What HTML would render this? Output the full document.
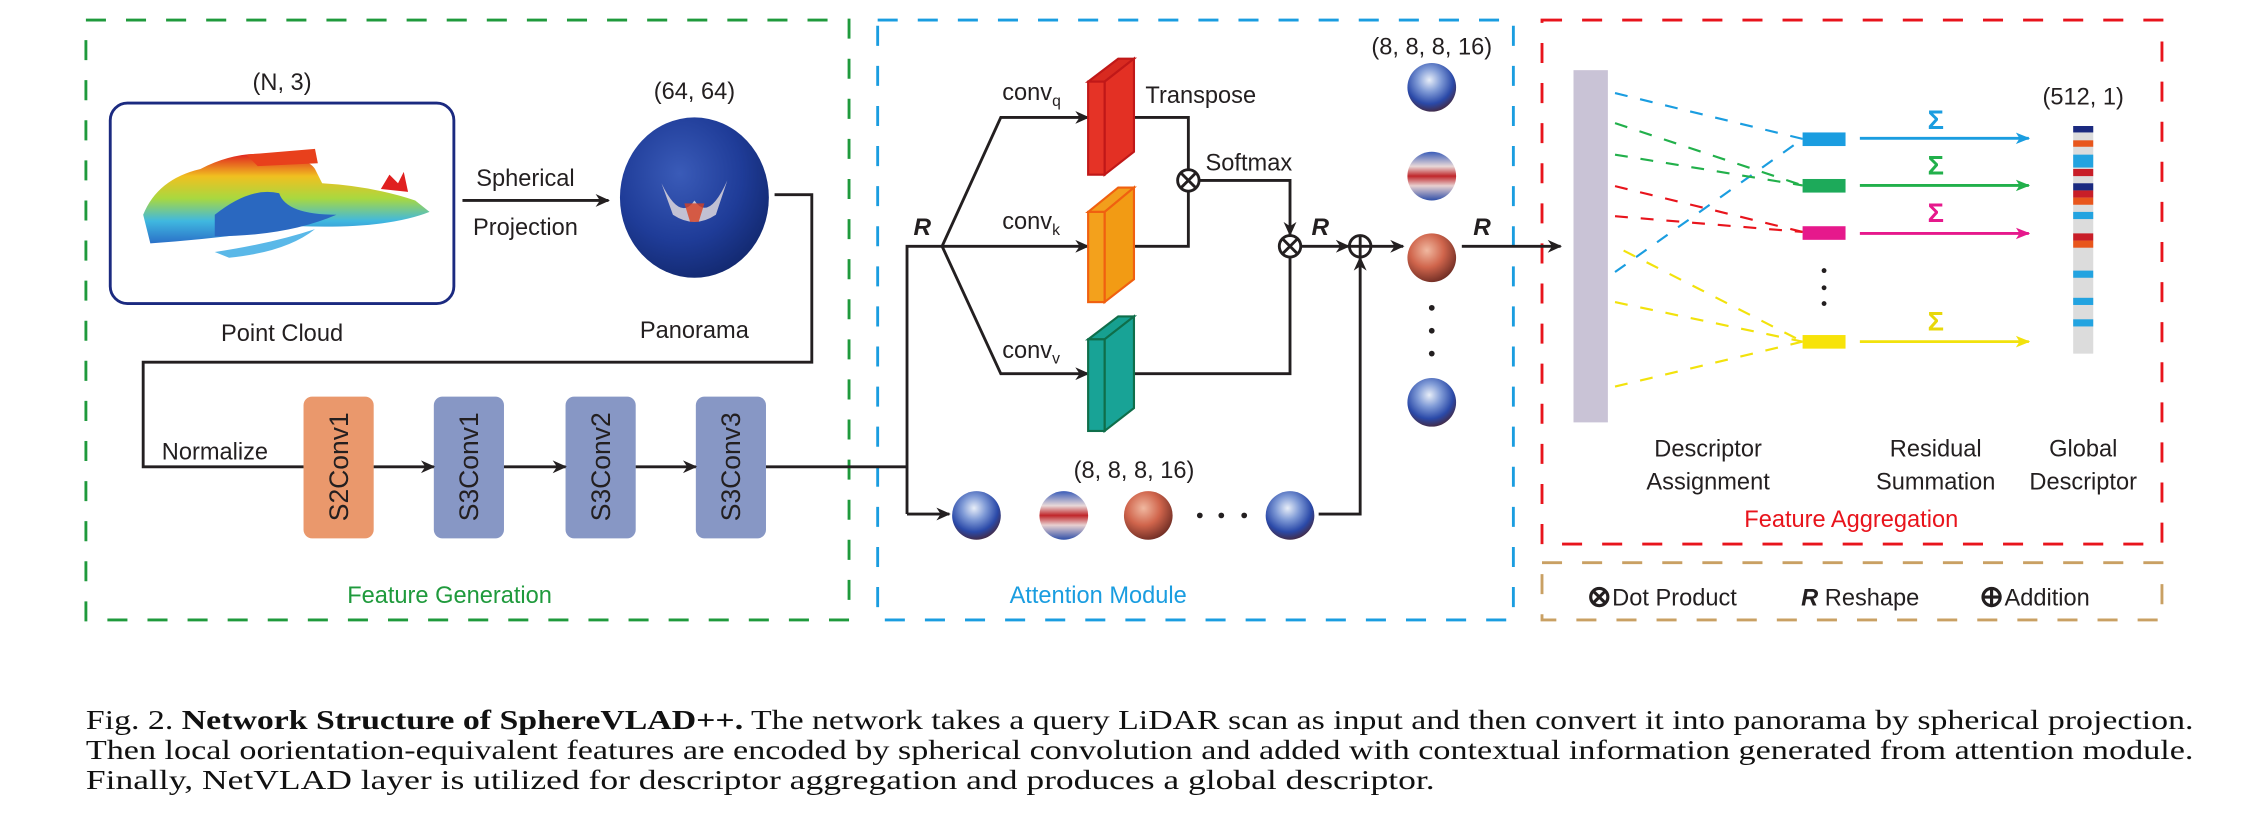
<!DOCTYPE html>
<html><head><meta charset="utf-8"><style>
html,body{margin:0;padding:0;background:#fff;}
svg{display:block;}
text{font-family:"Liberation Sans",Arial,sans-serif;fill:#231f20;}
.cap{font-family:"Liberation Serif","Times New Roman",serif;font-size:19px;fill:#111;}
</style></head><body>
<svg width="2245" height="828" viewBox="0 0 1568 578.3" xmlns="http://www.w3.org/2000/svg">
<defs>
<marker id="ah" markerWidth="10" markerHeight="10" refX="9" refY="5" orient="auto" markerUnits="userSpaceOnUse"><path d="M0,0.5 L10,5 L0,9.5 L3,5 Z" fill="#231f20"/></marker>
<marker id="ab" markerWidth="10" markerHeight="10" refX="9" refY="5" orient="auto" markerUnits="userSpaceOnUse"><path d="M0,1 L10,5 L0,9 L2.5,5 Z" fill="#1a9de0"/></marker>
<marker id="ag" markerWidth="10" markerHeight="10" refX="9" refY="5" orient="auto" markerUnits="userSpaceOnUse"><path d="M0,1 L10,5 L0,9 L2.5,5 Z" fill="#22b04b"/></marker>
<marker id="am" markerWidth="10" markerHeight="10" refX="9" refY="5" orient="auto" markerUnits="userSpaceOnUse"><path d="M0,1 L10,5 L0,9 L2.5,5 Z" fill="#e6198c"/></marker>
<marker id="ay" markerWidth="10" markerHeight="10" refX="9" refY="5" orient="auto" markerUnits="userSpaceOnUse"><path d="M0,1 L10,5 L0,9 L2.5,5 Z" fill="#f2e20c"/></marker>
<radialGradient id="pano" cx="0.4" cy="0.35" r="0.7"><stop offset="0" stop-color="#3a5bb8"/><stop offset="0.6" stop-color="#1f3c98"/><stop offset="1" stop-color="#12286e"/></radialGradient>
<radialGradient id="sr" cx="0.4" cy="0.35" r="0.7"><stop offset="0" stop-color="#f0b8a0"/><stop offset="0.5" stop-color="#d0654c"/><stop offset="1" stop-color="#6a2a22"/></radialGradient>
<radialGradient id="sb" cx="0.45" cy="0.35" r="0.7"><stop offset="0" stop-color="#e8eef8"/><stop offset="0.35" stop-color="#7f9ad6"/><stop offset="0.7" stop-color="#2a49a8"/><stop offset="1" stop-color="#4a2430"/></radialGradient>
<linearGradient id="sm" x1="0" y1="0" x2="0" y2="1"><stop offset="0" stop-color="#3a5cb8"/><stop offset="0.3" stop-color="#e8d8d8"/><stop offset="0.5" stop-color="#c0262a"/><stop offset="0.7" stop-color="#e8d0d0"/><stop offset="1" stop-color="#3050a8"/></linearGradient>
<linearGradient id="pc" x1="0" y1="0" x2="0" y2="1"><stop offset="0" stop-color="#e02020"/><stop offset="0.25" stop-color="#f0c020"/><stop offset="0.5" stop-color="#a8d840"/><stop offset="0.75" stop-color="#40b8e0"/><stop offset="1" stop-color="#2a70c8"/></linearGradient>
</defs>

<g fill="none" stroke-width="2" stroke-dasharray="14,14">
<rect x="60" y="14" width="533" height="419" stroke="#1f9a3c"/>
<rect x="613" y="14" width="444" height="419" stroke="#1a9de0"/>
<rect x="1077" y="14" width="433" height="366" stroke="#e8141c"/>
<rect x="1077" y="393" width="433" height="40" stroke="#c9a063"/>
</g>
<text x="314" y="421" font-size="16.5" text-anchor="middle" style="fill:#1f9a3c">Feature Generation</text>
<text x="767" y="421" font-size="16.5" text-anchor="middle" style="fill:#1a9de0">Attention Module</text>
<text x="1293" y="368" font-size="16.5" text-anchor="middle" style="fill:#e8141c">Feature Aggregation</text>

<rect x="77" y="72" width="240" height="140" rx="12" fill="#fff" stroke="#1b2a80" stroke-width="2"/>
<text x="197" y="63" font-size="16.5" text-anchor="middle">(N, 3)</text>
<text x="197" y="238" font-size="16.5" text-anchor="middle">Point Cloud</text>
<g>
<path d="M100,150 Q110,125 140,118 Q165,105 190,108 Q215,110 220,118 L225,128 Q260,130 290,140 L300,148 Q270,160 210,158 Q160,166 105,170 Z" fill="url(#pc)"/>
<path d="M150,150 Q175,130 195,135 Q200,150 235,150 Q200,165 150,165 Z" fill="#2a68c0"/>
<path d="M150,176 Q190,170 220,160 Q200,176 160,180 Z" fill="#5ab8e8"/>
<path d="M172,108 L220,104 L222,114 L180,116 Z" fill="#e8401c"/>
<path d="M266,132 L272,122 L278,128 L282,120 L285,134 Z" fill="#e02020"/>
</g>

<ellipse cx="485" cy="138" rx="52" ry="56" fill="url(#pano)"/>
<path d="M462,128 Q475,155 485,140 Q495,155 508,126 L500,150 Q485,160 470,150 Z" fill="#e8e0e0" opacity="0.8"/>
<path d="M478,142 L492,142 L488,155 L482,155 Z" fill="#d84020" opacity="0.8"/>
<text x="485" y="69" font-size="16.5" text-anchor="middle">(64, 64)</text>
<text x="485" y="236" font-size="16.5" text-anchor="middle">Panorama</text>
<line x1="323" y1="140" x2="425" y2="140" stroke="#231f20" stroke-width="2" marker-end="url(#ah)"/>
<text x="367" y="130" font-size="16.5" text-anchor="middle">Spherical</text>
<text x="367" y="164" font-size="16.5" text-anchor="middle">Projection</text>

<polyline points="541,136 567,136 567,253 100,253 100,326 212,326" fill="none" stroke="#231f20" stroke-width="2"/>
<text x="113" y="321" font-size="16.5">Normalize</text>
<rect x="212" y="277" width="49" height="99" rx="6" fill="#ea986c"/>
<rect x="303" y="277" width="49" height="99" rx="6" fill="#8797c5"/>
<rect x="395" y="277" width="49" height="99" rx="6" fill="#8797c5"/>
<rect x="486" y="277" width="49" height="99" rx="6" fill="#8797c5"/>
<g font-size="18.5" text-anchor="middle">
<text transform="translate(243,326) rotate(-90)">S2Conv1</text>
<text transform="translate(334,326) rotate(-90)">S3Conv1</text>
<text transform="translate(426,326) rotate(-90)">S3Conv2</text>
<text transform="translate(517,326) rotate(-90)">S3Conv3</text>
</g>
<g stroke="#231f20" stroke-width="2" fill="none">
<line x1="261" y1="326" x2="303" y2="326" marker-end="url(#ah)"/>
<line x1="352" y1="326" x2="395" y2="326" marker-end="url(#ah)"/>
<line x1="444" y1="326" x2="486" y2="326" marker-end="url(#ah)"/>
<polyline points="535,326 633.5,326"/>
<polyline points="633.5,359 633.5,172 658,172"/>
<line x1="633.5" y1="359" x2="663" y2="359" marker-end="url(#ah)"/>
<polyline points="658,172 699,82 760,82" marker-end="url(#ah)"/>
<line x1="658" y1="172" x2="760" y2="172" marker-end="url(#ah)"/>
<polyline points="658,172 699,261 760,261" marker-end="url(#ah)"/>
<polyline points="792,82 830,82 830,119"/>
<polyline points="792,172 830,172 830,133"/>
<polyline points="837.5,126 901,126 901,164" marker-end="url(#ah)"/>
<polyline points="792,261 901,261 901,180"/>
<line x1="908.5" y1="172" x2="942" y2="172" marker-end="url(#ah)"/>
<line x1="957.5" y1="172" x2="980" y2="172" marker-end="url(#ah)"/>
<polyline points="921,359 950,359 950,180" marker-end="url(#ah)"/>
<line x1="1021" y1="172" x2="1090" y2="172" marker-end="url(#ah)"/>
</g>
<g font-size="17" font-weight="bold" font-style="italic">
<text x="638" y="164">R</text>
<text x="916" y="164">R</text>
<text x="1029" y="164">R</text>
</g>
<g font-size="16.5">
<text x="700" y="70">conv<tspan font-size="11" dy="4">q</tspan></text>
<text x="700" y="160">conv<tspan font-size="11" dy="4">k</tspan></text>
<text x="700" y="250">conv<tspan font-size="11" dy="4">v</tspan></text>
<text x="800" y="72">Transpose</text>
<text x="842" y="119">Softmax</text>
</g>
<g stroke-width="1.5">
<path d="M760,57 L781,41 L792,41 L771.5,57 Z" fill="#d82a20" stroke="#c01818"/>
<path d="M771.5,57 L792,41 L792,106 L771.5,122 Z" fill="#e33024" stroke="#c01818"/>
<rect x="760" y="57" width="11.5" height="65" fill="#e53326" stroke="#c01818"/>
<path d="M760,148 L781,131 L792,131 L771.5,148 Z" fill="#f29e1c" stroke="#f06010"/>
<path d="M771.5,148 L792,131 L792,195 L771.5,211 Z" fill="#f29b14" stroke="#f06010"/>
<rect x="760" y="148" width="11.5" height="63" fill="#f3a11c" stroke="#f06010"/>
<path d="M760,237 L781,221 L792,221 L771.5,237 Z" fill="#17a090" stroke="#0f6e4a"/>
<path d="M771.5,237 L792,221 L792,285 L771.5,301 Z" fill="#18a396" stroke="#0f6e4a"/>
<rect x="760" y="237" width="11.5" height="64" fill="#18a396" stroke="#0f6e4a"/>
</g>
<g stroke="#231f20" stroke-width="2" fill="#fff">
<circle cx="830" cy="126" r="7.5"/><path d="M825,121 L835,131 M835,121 L825,131"/>
<circle cx="901" cy="172" r="7.5"/><path d="M896,167 L906,177 M906,167 L896,177"/>
<circle cx="950" cy="172" r="7.5"/><path d="M950,164.5 L950,179.5 M942.5,172 L957.5,172"/>
</g>
<text x="792" y="334" font-size="16.5" text-anchor="middle">(8, 8, 8, 16)</text>
<circle cx="682" cy="360" r="17" fill="url(#sb)"/>
<circle cx="743" cy="360" r="17" fill="url(#sm)"/>
<circle cx="802" cy="360" r="17" fill="url(#sr)"/>
<circle cx="901" cy="360" r="17" fill="url(#sb)"/>
<g fill="#231f20"><circle cx="838" cy="360" r="2"/><circle cx="853" cy="360" r="2"/><circle cx="869" cy="360" r="2"/></g>
<text x="1000" y="38" font-size="16.5" text-anchor="middle">(8, 8, 8, 16)</text>
<circle cx="1000" cy="61" r="17" fill="url(#sb)"/>
<circle cx="1000" cy="123" r="17" fill="url(#sm)"/>
<circle cx="1000" cy="180" r="17" fill="url(#sr)"/>
<circle cx="1000" cy="281" r="17" fill="url(#sb)"/>
<g fill="#231f20"><circle cx="1000" cy="215" r="2"/><circle cx="1000" cy="231" r="2"/><circle cx="1000" cy="247" r="2"/></g>

<rect x="1099" y="49" width="24" height="246" fill="#c9c3d6"/>
<g fill="none" stroke-width="1.5" stroke-dasharray="9,9">
<line x1="1128" y1="65" x2="1259" y2="97" stroke="#1a9de0"/>
<line x1="1128" y1="190" x2="1259" y2="97" stroke="#1a9de0"/>
<line x1="1128" y1="86" x2="1259" y2="129.5" stroke="#22b04b"/>
<line x1="1128" y1="108" x2="1259" y2="129.5" stroke="#22b04b"/>
<line x1="1128" y1="130" x2="1259" y2="162" stroke="#e8141c"/>
<line x1="1128" y1="151" x2="1259" y2="162" stroke="#e8141c"/>
<line x1="1134" y1="175" x2="1259" y2="238.6" stroke="#f2e20c"/>
<line x1="1128" y1="211" x2="1259" y2="238.6" stroke="#f2e20c"/>
<line x1="1128" y1="270" x2="1259" y2="238.6" stroke="#f2e20c"/>
</g>
<rect x="1259" y="92.5" width="30" height="9.5" fill="#1a9de0"/>
<rect x="1259" y="125" width="30" height="9.5" fill="#1daa5a"/>
<rect x="1259" y="158" width="30" height="9.5" fill="#e6198c"/>
<rect x="1259" y="234" width="30" height="9.5" fill="#f7e30a"/>
<g fill="#231f20"><circle cx="1274" cy="189" r="1.7"/><circle cx="1274" cy="201" r="1.7"/><circle cx="1274" cy="212" r="1.7"/></g>
<g stroke-width="2">
<line x1="1299" y1="96.6" x2="1417" y2="96.6" stroke="#1a9de0" marker-end="url(#ab)"/>
<line x1="1299" y1="129.5" x2="1417" y2="129.5" stroke="#22b04b" marker-end="url(#ag)"/>
<line x1="1299" y1="163" x2="1417" y2="163" stroke="#e6198c" marker-end="url(#am)"/>
<line x1="1299" y1="238.6" x2="1417" y2="238.6" stroke="#f2e20c" marker-end="url(#ay)"/>
</g>
<g font-size="19" text-anchor="middle" font-weight="bold">
<text x="1352" y="90" style="fill:#1a9de0">Σ</text>
<text x="1352" y="122" style="fill:#22b04b">Σ</text>
<text x="1352" y="155" style="fill:#e6198c">Σ</text>
<text x="1352" y="231" style="fill:#e8d80a">Σ</text>
</g>
<rect x="1448" y="88" width="14" height="159" fill="#dcdcdc"/>
<g>
<rect x="1448" y="88" width="14" height="4.5" fill="#1b2a80"/>
<rect x="1448" y="98" width="14" height="4.5" fill="#e8561c"/>
<rect x="1448" y="108" width="14" height="9" fill="#23a3e0"/>
<rect x="1448" y="118" width="14" height="5" fill="#c81e28"/>
<rect x="1448" y="128" width="14" height="5" fill="#1b2a80"/>
<rect x="1448" y="133" width="14" height="5" fill="#c81e28"/>
<rect x="1448" y="138" width="14" height="5" fill="#e8561c"/>
<rect x="1448" y="148" width="14" height="5" fill="#23a3e0"/>
<rect x="1448" y="163" width="14" height="5" fill="#c81e28"/>
<rect x="1448" y="168" width="14" height="5" fill="#e8561c"/>
<rect x="1448" y="189" width="14" height="5" fill="#23a3e0"/>
<rect x="1448" y="208" width="14" height="5" fill="#23a3e0"/>
<rect x="1448" y="223" width="14" height="5" fill="#23a3e0"/>
</g>
<g font-size="16.5" text-anchor="middle">
<text x="1455" y="73">(512, 1)</text>
<text x="1193" y="319">Descriptor</text>
<text x="1193" y="342">Assignment</text>
<text x="1352" y="319">Residual</text>
<text x="1352" y="342">Summation</text>
<text x="1455" y="319">Global</text>
<text x="1455" y="342">Descriptor</text>
</g>
<g stroke="#231f20" stroke-width="2.2" fill="none">
<circle cx="1117" cy="417" r="6"/><path d="M1113,413 L1121,421 M1121,413 L1113,421"/>
<circle cx="1391" cy="417" r="6"/><path d="M1391,411 L1391,423 M1385,417 L1397,417"/>
</g>
<text x="1126" y="423" font-size="16.5">Dot Product</text>
<text x="1258" y="423" font-size="16.5"><tspan font-weight="bold" font-style="italic">R</tspan> Reshape</text>
<text x="1400" y="423" font-size="16.5">Addition</text>

<text class="cap" x="60" y="509" textLength="1472" lengthAdjust="spacingAndGlyphs">Fig. 2.  <tspan font-weight="bold">Network Structure of SphereVLAD++.</tspan> The network takes a query LiDAR scan as input and then convert it into panorama by spherical projection.</text>
<text class="cap" x="60" y="530" textLength="1472" lengthAdjust="spacingAndGlyphs">Then local oorientation-equivalent features are encoded by spherical convolution and added with contextual information generated from attention module.</text>
<text class="cap" x="60" y="551" textLength="942" lengthAdjust="spacingAndGlyphs">Finally, NetVLAD layer is utilized for descriptor aggregation and produces a global descriptor.</text>
</svg>
</body></html>
